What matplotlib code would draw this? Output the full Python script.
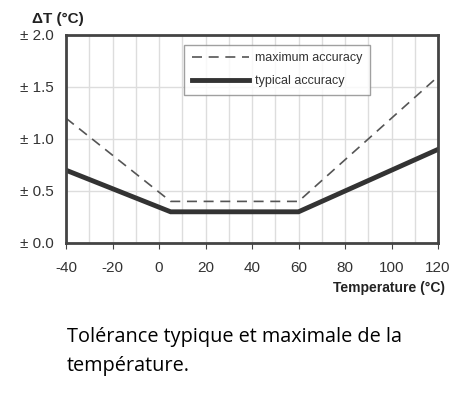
import matplotlib.pyplot as plt

plt.rcParams['axes.unicode_minus'] = False
plt.rcParams['font.family'] = ['Liberation Sans', 'DejaVu Sans']

# accuracy curves
temp_pts = [-40, 5, 60, 120]
max_acc = [1.2, 0.4, 0.4, 1.6]
typ_acc = [0.7, 0.3, 0.3, 0.9]

xticks = [-40, -20, 0, 20, 40, 60, 80, 100, 120]
yticks = [0.0, 0.5, 1.0, 1.5, 2.0]
ytick_labels = ['± 0.0', '± 0.5', '± 1.0', '± 1.5', '± 2.0']

fig = plt.figure(figsize=(4.75, 3.97), dpi=100)
ax = fig.add_axes([66/475, 1 - 243/397, (438-66)/475, (243-35)/397])

ax.plot(temp_pts, max_acc, color='#555555', lw=1.2, ls=(0, (6, 4)), label='maximum accuracy')
ax.plot(temp_pts, typ_acc, color='#333333', lw=3.5, solid_joinstyle='miter', label='typical accuracy')

ax.set_xlim(-40, 120)
ax.set_ylim(0, 2.0)
ax.set_xticks(xticks)
ax.set_xticks(range(-40, 121, 10), minor=True)
ax.set_yticks(yticks)
ax.set_yticklabels(ytick_labels)
ax.grid(True, which='both', color='#dddddd', lw=1)
ax.set_axisbelow(True)
ax.tick_params(axis='x', which='major', length=4, color='#444444', labelsize=11, labelcolor='#333333', pad=9)
ax.tick_params(axis='x', which='minor', length=0)
ax.tick_params(axis='y', length=0, labelsize=11, labelcolor='#333333', pad=9)
for s in ax.spines.values():
    s.set_color('#444444')
    s.set_linewidth(2)

leg = ax.legend(loc='upper left', bbox_to_anchor=(118/372, 1 - 10/208), borderaxespad=0,
                prop={'size': 9}, handlelength=4.6, frameon=True, fancybox=False,
                edgecolor='#888888', borderpad=0.6, labelspacing=0.85, handletextpad=0.5)
leg.get_frame().set_linewidth(1)
for t in leg.get_texts():
    t.set_color('#333333')

fig.text(32/475, 1 - 19/397, 'ΔT (°C)', fontsize=11, fontweight='bold', va='center', color='#222222')
fig.text(445/475, 1 - 288/397, 'Temperature (°C)', fontsize=10, fontweight='bold', ha='right', va='center', color='#222222')

fig.text(67/475, 1 - 337/397, 'Tolérance typique et maximale de la', fontsize=14.3, family='Open Sans', va='center')
fig.text(67/475, 1 - 366/397, 'température.', fontsize=14.3, family='Open Sans', va='center')

fig.savefig('out.png', dpi=100)
